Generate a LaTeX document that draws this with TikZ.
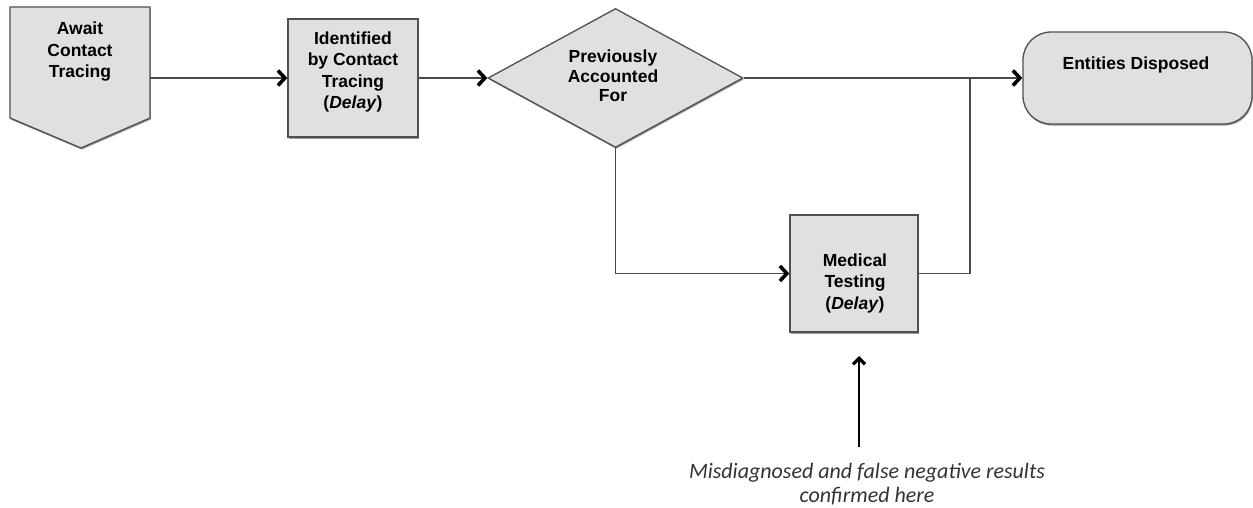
\documentclass[tikz,border=0pt]{standalone}
\usepackage{fontspec}
\setmainfont{Liberation Sans}
\newfontfamily\notefont{Carlito}
\usetikzlibrary{arrows.meta,shapes.geometric,shadows}
\definecolor{boxfill}{HTML}{E0E0E0}
\definecolor{boxline}{HTML}{505050}
\definecolor{conn}{HTML}{4A4A4A}
\tikzset{
  shape box/.style={draw=boxline, fill=boxfill, line width=1.3pt, inner sep=0pt,
    drop shadow={shadow xshift=0.8pt, shadow yshift=-1.6pt, fill=black!55, opacity=0.7}},
  lbl/.style={font=\fontsize{17.5}{21.5}\selectfont\bfseries, align=center, inner sep=0pt},
  tipbarb/.tip={Straight Barb[length=7pt,width=15pt,line width=3.6pt,black]},
  flow/.style={draw=conn, line width=1.8pt, -tipbarb},
  plain/.style={draw=conn, line width=1.8pt},
  notetext/.style={font=\notefont\itshape\fontsize{22}{23.5}\selectfont, align=center, text=black!80, inner sep=0pt}
}
\begin{document}
\begin{tikzpicture}[x=1pt,y=-1pt]
\useasboundingbox (0,0) rectangle (1253,508);
% Await contact tracing (off-page connector)
\filldraw[shape box] (10,7) -- (150,7) -- (150,118) -- (81,148) -- (10,118) -- cycle;
\node[lbl] (await) at (80,52) {Await\\Contact\\Tracing};
\coordinate (awaitout) at (150,78);
% Identified by contact tracing
\node[shape box, rectangle, minimum width=130pt, minimum height=118pt] (ident) at (353,78) {};
\node[lbl] (identlbl) at (353,72) {Identified\\by Contact\\Tracing\\(\textit{Delay})};
% Decision
\node[shape box, diamond, minimum width=255pt, minimum height=139pt] (diam) at (615.5,78) {};
\node[lbl, font=\fontsize{17.5}{19.5}\selectfont\bfseries] (diamlbl) at (613,76) {Previously\\Accounted\\For};
% Entities disposed
\node[shape box, rectangle, rounded corners=28pt, minimum width=229pt, minimum height=92pt] (ent) at (1137.5,78) {};
\node[lbl] (entlbl) at (1136,65) {Entities Disposed};
% Medical testing
\node[shape box, rectangle, minimum width=128pt, minimum height=117pt] (med) at (854,273.5) {};
\node[lbl] (medlbl) at (855,283) {Medical\\Testing\\(\textit{Delay})};
% junction
\coordinate (j) at (970,78);
% connectors
\draw[flow] (awaitout) -- (ident.west);
\draw[flow] (ident.east) -- (diam.west);
\draw[flow] (diam.east) -- (ent.west);
\draw[flow] (diam.south) |- (med.west);
\draw[plain] (med.east) -| (j);
% note
\coordinate (notesrc) at (859,447);
\coordinate (notetip) at (859,356);
\draw[line width=1.8pt, black, -{Straight Barb[length=6pt,width=12pt,line width=3.2pt]}] (notesrc) -- (notetip);
\node[notetext] (note) at (867,484) {Misdiagnosed and false negative results\\confirmed here};
\end{tikzpicture}
\end{document}
